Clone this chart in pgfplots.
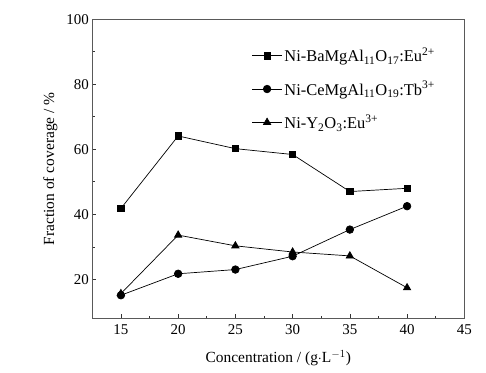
\documentclass[border=0pt]{standalone}
\usepackage{pgfplots}
\pgfplotsset{compat=1.18}
\usepackage{fontspec}
\setmainfont{Liberation Serif}
\begin{document}
\begin{tikzpicture}
\begin{axis}[
  at={(0,0)}, anchor=south west,
  scale only axis,
  width=372bp, height=299bp,
  xmin=12.5, xmax=45, ymin=8, ymax=100,
  xtick={15,20,...,45}, ytick={20,40,...,100},
  minor x tick num=1, minor y tick num=1,
  tick align=inside,
  xtick pos=left, ytick pos=left,
  major tick length=4bp, minor tick length=2.5bp,
  axis line style={color=black!65, line width=1.1bp},
  tick style={color=black!80, line width=0.6bp},
  /pgf/number format/assume math mode=true,
  tick label style={font=\fontsize{15}{17}\selectfont},
  xticklabel style={yshift=-3bp},
  label style={font=\fontsize{15.5}{18}\selectfont},
  xlabel={Concentration / (g$\cdot$L$^{-1}$)},
  ylabel={Fraction of coverage / \%},
  xlabel style={yshift=-9bp},
  ylabel style={yshift=2bp},
  legend style={at={(0.42,0.918)}, anchor=north west, draw=none, fill=none,
    font=\fontsize{16.5}{19}\selectfont, nodes={font=\fontsize{16.5}{19}\selectfont}, row sep=14bp},
  legend cell align=left,
  legend image code/.code={\draw[mark repeat=2,mark phase=2,#1] plot coordinates {(0bp,0bp) (15bp,0bp) (30bp,0bp)};},
  every axis plot/.append style={black, line width=0.7bp},
]
\addplot[mark=square*, mark size=3.2bp] coordinates {(15,41.8) (20,64.1) (25,60.2) (30,58.4) (35,47.0) (40,48.0)};
\addlegendentry{Ni-BaMgAl\textsubscript{11}O\textsubscript{17}:Eu\textsuperscript{2+}}
\addplot[mark=*, mark size=3.8bp] coordinates {(15,15.1) (20,21.7) (25,23.0) (30,27.1) (35,35.3) (40,42.5)};
\addlegendentry{Ni-CeMgAl\textsubscript{11}O\textsubscript{19}:Tb\textsuperscript{3+}}
\addplot[mark=triangle*, mark size=4.2bp] coordinates {(15,15.6) (20,33.6) (25,30.3) (30,28.4) (35,27.2) (40,17.4)};
\addlegendentry{Ni-Y\textsubscript{2}O\textsubscript{3}:Eu\textsuperscript{3+}}
\end{axis}
\path[use as bounding box] (-92.3bp,-54.7bp) rectangle (393.7bp,318.3bp);
\end{tikzpicture}
\end{document}
